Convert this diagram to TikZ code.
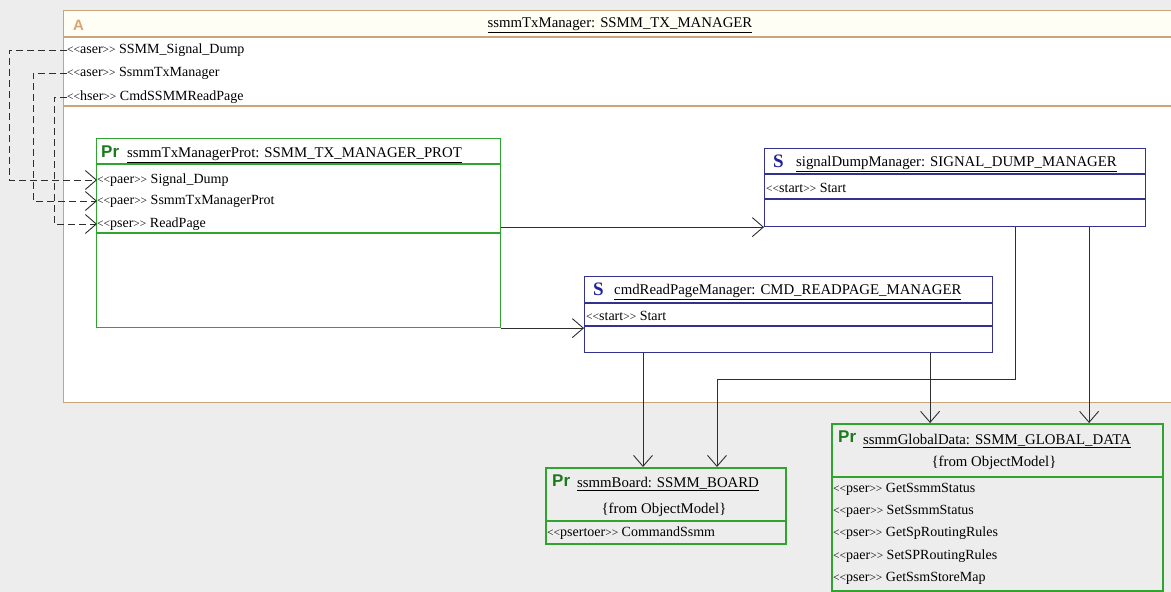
\documentclass[tikz,border=0pt]{standalone}
\usepackage{fontspec}
\setmainfont{Liberation Serif}
\setsansfont{Liberation Sans}
\usetikzlibrary{arrows.meta}
\definecolor{canvas}{HTML}{EDEDED}
\definecolor{frametan}{HTML}{C9A57C}
\definecolor{framelabel}{HTML}{DDA272}
\definecolor{protgreen}{HTML}{2FA52F}
\definecolor{prgreen}{HTML}{1C7A1C}
\definecolor{snavy}{HTML}{33338E}
\definecolor{sletter}{HTML}{22229A}
\definecolor{wire}{HTML}{2E2E2E}
% stereotype guillemets, set a little smaller than the body text
\newcommand\guil[1]{{\fontsize{11.5}{11}\selectfont#1}}
\newcommand\stereo[1]{\guil{<{}<}#1\guil{>{}>}}

\begin{document}
\begin{tikzpicture}[x=1pt,y=-1pt,
  font=\fontsize{14}{16}\selectfont,
  txt/.style={anchor=west,inner sep=0pt,text=black},
  ttl/.style={anchor=west,inner sep=0pt,text=black,font=\fontsize{14.8}{16}\selectfont},
  boxbase/.style={anchor=north west,inner sep=0pt,line width=1.1pt},
  protbox/.style={boxbase,draw=protgreen},
  sbox/.style={boxbase,draw=snavy},
  prtag/.style={anchor=west,inner sep=0pt,text=prgreen,font=\sffamily\bfseries\fontsize{17}{17}\selectfont},
  stag/.style={anchor=west,inner sep=0pt,text=sletter,font=\bfseries\fontsize{19}{19}\selectfont},
  tip/.style={-{Straight Barb[length=11pt,width=19pt,line width=0.9pt]}},
  conn/.style={draw=wire,line width=0.9pt,tip},
  port/.style={conn,dash pattern=on 7pt off 4pt},
]
\path[use as bounding box] (0,0) rectangle (1171,592);
\clip (0,0) rectangle (1171,592);
\fill[canvas] (0,0) rectangle (1171,592);

% capsule ssmmTxManager
\node[boxbase,draw=frametan,fill=white,line width=1.2pt,minimum width=1140pt,minimum height=392pt] (mgr) at (63,10) {};
\fill[fill=yellow!4] ([shift={(1,1)}]mgr.north west) rectangle ++(1130,26);
\draw[frametan,line width=1.2pt] ([yshift=-27pt]mgr.north west) -- ++(1140,0);
\draw[frametan,line width=1.2pt] ([yshift=-96pt]mgr.north west) -- ++(1140,0);
\node[anchor=west,inner sep=0pt,text=framelabel,font=\sffamily\bfseries\fontsize{15}{15}\selectfont] (mgrtag) at (73,25) {A};
\node[ttl,anchor=center] (mgrtitle) at (620,25) {\underline{ssmmTxManager: SSMM\_TX\_MANAGER}};
\node[txt] (aSig) at (67,50) {\stereo{aser} SSMM\_Signal\_Dump};
\node[txt] (aTx)  at (67,73) {\stereo{aser} SsmmTxManager};
\node[txt] (aRd)  at (67,97) {\stereo{hser} CmdSSMMReadPage};

% protocol ssmmTxManagerProt
\node[protbox,fill=white,minimum width=404pt,minimum height=189pt] (prot) at (96,138) {};
\draw[protgreen,line width=1.1pt] ([yshift=-26pt]prot.north west) -- ++(404,0);
\draw[protgreen,line width=1.1pt] ([yshift=-95pt]prot.north west) -- ++(404,0);
\node[prtag] (protTag) at (101,152) {Pr};
\node[ttl] (protTitle) at (127,155) {\underline{ssmmTxManagerProt: SSMM\_TX\_MANAGER\_PROT}};
\node[txt] (pSig) at (97,180) {\stereo{paer} Signal\_Dump};
\node[txt] (pTx)  at (97,201) {\stereo{paer} SsmmTxManagerProt};
\node[txt] (pRd)  at (97,224) {\stereo{pser} ReadPage};

% port delegations
\draw[port] (aSig.west) -- ++(-58,0) |- (pSig.west);
\draw[port] (aTx.west) -- ++(-34,0) |- (pTx.west);
\draw[port] (aRd.west) -- ++(-13,0) |- (pRd.west);

% signalDumpManager
\node[sbox,fill=white,minimum width=381pt,minimum height=78pt] (sdm) at (764,148) {};
\draw[snavy,line width=1.1pt] ([yshift=-26pt]sdm.north west) -- ++(381,0);
\draw[snavy,line width=1.1pt] ([yshift=-51pt]sdm.north west) -- ++(381,0);
\node[stag] (sdmTag) at (773,161) {S};
\node[ttl] (sdmTitle) at (796,164) {\underline{signalDumpManager: SIGNAL\_DUMP\_MANAGER}};
\node[txt] (sdmStart) at (766,188) {\stereo{start} Start};

% cmdReadPageManager
\node[sbox,fill=white,minimum width=408pt,minimum height=76pt] (crp) at (584,276) {};
\draw[snavy,line width=1.1pt] ([yshift=-27pt]crp.north west) -- ++(408,0);
\draw[snavy,line width=1.1pt] ([yshift=-50pt]crp.north west) -- ++(408,0);
\node[stag] (crpTag) at (593,289) {S};
\node[ttl] (crpTitle) at (614,292) {\underline{cmdReadPageManager: CMD\_READPAGE\_MANAGER}};
\node[txt] (crpStart) at (586,316) {\stereo{start} Start};

% ssmmBoard
\node[protbox,line width=1.5pt,minimum width=240pt,minimum height=76pt] (board) at (545,467) {};
\draw[protgreen,line width=2.2pt] ([yshift=-54pt]board.north west) -- ++(240,0);
\node[prtag] (boardTag) at (552,481) {Pr};
\node[ttl] (boardTitle) at (577,484) {\underline{ssmmBoard: SSMM\_BOARD}};
\node[ttl,anchor=center] (boardFrom) at (664,510) {\{from ObjectModel\}};
\node[txt] (boardOp) at (547,533) {\stereo{psertoer} CommandSsmm};

% ssmmGlobalData
\node[protbox,line width=1.5pt,minimum width=331pt,minimum height=167pt] (gdata) at (831,423) {};
\draw[protgreen,line width=2.2pt] ([yshift=-54pt]gdata.north west) -- ++(331,0);
\node[prtag] (gdataTag) at (838,437) {Pr};
\node[ttl] (gdataTitle) at (863,441) {\underline{ssmmGlobalData: SSMM\_GLOBAL\_DATA}};
\node[ttl,anchor=center] (gdataFrom) at (994,463) {\{from ObjectModel\}};
\node[txt] (gOp1) at (833,489) {\stereo{pser} GetSsmmStatus};
\node[txt] (gOp2) at (833,511) {\stereo{paer} SetSsmmStatus};
\node[txt] (gOp3) at (833,533) {\stereo{pser} GetSpRoutingRules};
\node[txt] (gOp4) at (833,556) {\stereo{paer} SetSPRoutingRules};
\node[txt] (gOp5) at (833,578) {\stereo{pser} GetSsmStoreMap};

% connectors
\draw[conn] (prot.east |- sdm.south west) -- (sdm.south west);
\draw[conn] (prot.south east) -- (prot.south east -| crp.west);
\draw[conn] ([xshift=59pt]crp.south west) -- ([xshift=59pt]crp.south west |- board.north);
\draw[conn] ([xshift=-131pt]sdm.south east) -- ++(0,152) -| ([xshift=172pt]board.north west);
\draw[conn] ([xshift=-63pt]crp.south east) -- ([xshift=-63pt]crp.south east |- gdata.north);
\draw[conn] ([xshift=-57pt]sdm.south east) -- ([xshift=-57pt]sdm.south east |- gdata.north);
\end{tikzpicture}
\end{document}
